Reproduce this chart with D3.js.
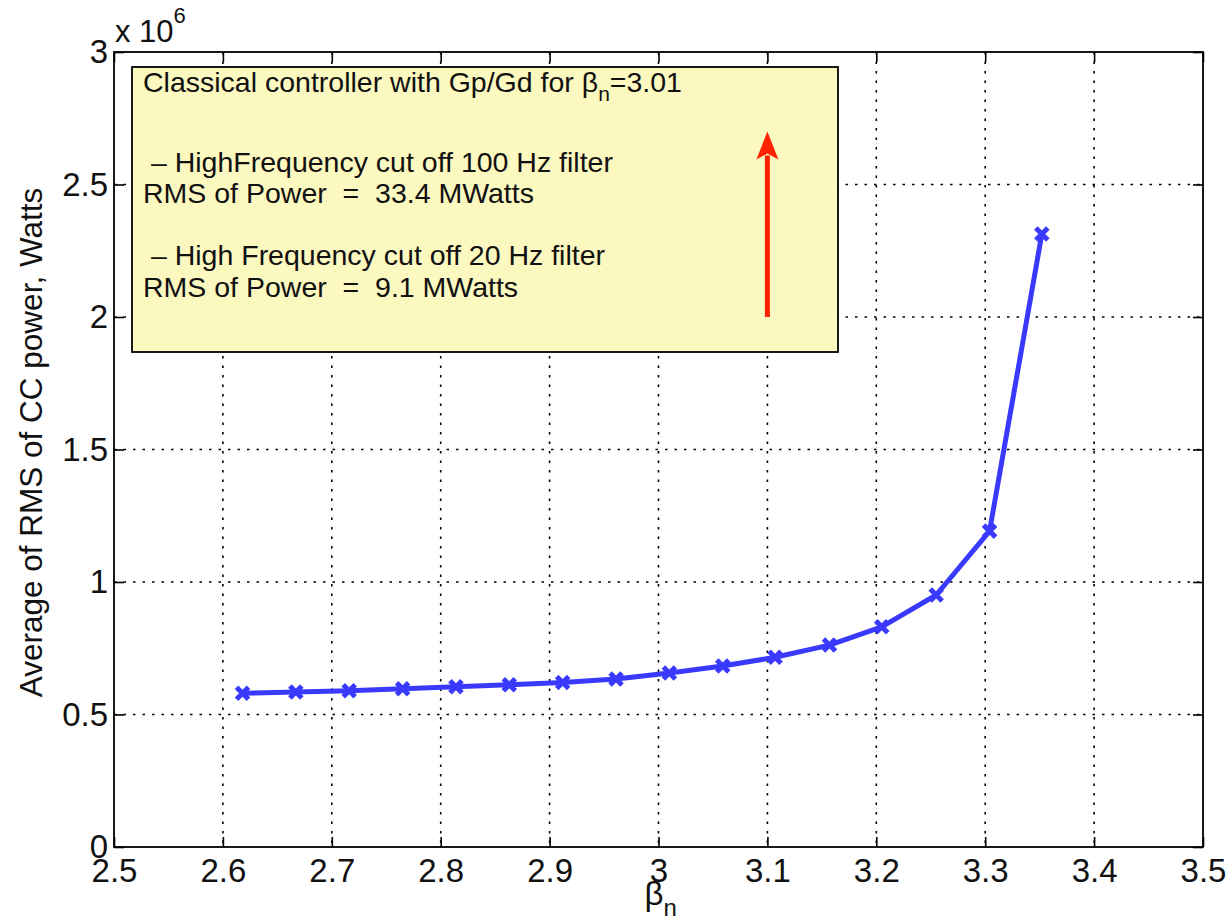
<!DOCTYPE html>
<html>
<head>
<meta charset="utf-8">
<script src="https://cdnjs.cloudflare.com/ajax/libs/d3/7.8.5/d3.min.js"></script>
<style>
	body { margin: 0; background: #fff; }
	svg { display: block; font-family: "Liberation Sans", Arial, Helvetica, sans-serif; }
	text { white-space: pre; }
</style>
</head>
<body>
<script>
// values (power in units of 1e6 W)
var betaN = [2.618, 2.667, 2.716, 2.765, 2.814, 2.863, 2.912, 2.961, 3.010, 3.059, 3.107, 3.157, 3.205, 3.255, 3.304, 3.352];
var rmsPower = [0.580, 0.585, 0.590, 0.597, 0.605, 0.612, 0.621, 0.634, 0.657, 0.683, 0.716, 0.762, 0.831, 0.951, 1.192, 2.313];
var xTicks = [2.5, 2.6, 2.7, 2.8, 2.9, 3.0, 3.1, 3.2, 3.3, 3.4, 3.5];
var yTicks = [0, 0.5, 1, 1.5, 2, 2.5, 3];
var boxLines = [
	{ text: "Classical controller with Gp/Gd for β", sub: "n", after: "=3.01" },
	{ text: " – HighFrequency cut off 100 Hz filter" },
	{ text: "RMS of Power  =  33.4 MWatts" },
	{ text: " – High Frequency cut off 20 Hz filter" },
	{ text: "RMS of Power  =  9.1 MWatts" }
];
var arrowFrom = 2.0, arrowTo = 2.7, arrowAt = 3.1; // annotation arrow in data units

var W = 1232, H = 923;
var mLeft = 114, mRight = 1203, mTop = 52, mBottom = 847;

var x = d3.scaleLinear().domain([2.5, 3.5]).range([mLeft, mRight]);
var y = d3.scaleLinear().domain([0, 3]).range([mBottom, mTop]);

var svg = d3.select("body").append("svg")
	.attr("width", W)
	.attr("height", H);

// grid
var grid = svg.append("g").attr("stroke", "#000").attr("stroke-width", 1.6).attr("stroke-dasharray", "2.5,7");
grid.selectAll(".gx").data(xTicks.slice(1, -1)).enter().append("line")
	.attr("x1", d => x(d)).attr("x2", d => x(d))
	.attr("y1", mTop).attr("y2", mBottom);
grid.selectAll(".gy").data(yTicks.slice(1, -1)).enter().append("line")
	.attr("x1", mLeft).attr("x2", mRight)
	.attr("y1", d => y(d)).attr("y2", d => y(d));

// axes (ticks pointing inward)
var fs = 33;
var gx = svg.append("g")
	.attr("transform", "translate(0," + mBottom + ")")
	.call(d3.axisBottom(x).tickValues(xTicks).tickSize(-10).tickPadding(12).tickFormat(d3.format("")));
var gxTop = svg.append("g")
	.attr("transform", "translate(0," + mTop + ")")
	.call(d3.axisTop(x).tickValues(xTicks).tickSize(-10).tickFormat(""));
var gy = svg.append("g")
	.attr("transform", "translate(" + mLeft + ",0)")
	.call(d3.axisLeft(y).tickValues(yTicks).tickSize(-10).tickPadding(6).tickFormat(d3.format("")));
var gyRight = svg.append("g")
	.attr("transform", "translate(" + mRight + ",0)")
	.call(d3.axisRight(y).tickValues(yTicks).tickSize(-10).tickFormat(""));

[gx, gxTop, gy, gyRight].forEach(function (g) {
	g.select(".domain").remove();
	g.selectAll(".tick line").attr("stroke", "#000").attr("stroke-width", 1.6);
	g.selectAll("text").attr("font-size", fs).attr("fill", "#111").attr("font-family", "Liberation Sans, Arial, sans-serif");
});

// box around the axes
svg.append("rect")
	.attr("x", mLeft).attr("y", mTop)
	.attr("width", mRight - mLeft).attr("height", mBottom - mTop)
	.attr("fill", "none").attr("stroke", "#000").attr("stroke-width", 1.8);

// exponent label
var expo = svg.append("text").attr("x", 115).attr("y", 42).attr("font-size", 31).attr("fill", "#111");
expo.append("tspan").text("x 10");
expo.append("tspan").attr("font-size", 22).attr("dy", -19).text("6");

// axis labels
var xl = svg.append("text").attr("x", x(3.0) - 14).attr("y", 905).attr("font-size", fs).attr("fill", "#111");
xl.append("tspan").text("β");
xl.append("tspan").attr("font-size", 24).attr("dy", 11).text("n");

svg.append("text")
	.attr("transform", "translate(42," + ((mTop + mBottom) / 2 - 7) + ") rotate(-90)")
	.attr("text-anchor", "middle")
	.attr("font-size", 31.5)
	.attr("fill", "#111")
	.text("Average of RMS of CC power, Watts");

// annotation box
svg.append("rect")
	.attr("x", 132).attr("y", 67)
	.attr("width", 706).attr("height", 285)
	.attr("fill", "#fbf8c0").attr("stroke", "#000").attr("stroke-width", 1.8);

var baselines = [92, 172, 203, 265, 297];
boxLines.forEach(function (l, i) {
	var t = svg.append("text").attr("x", 143).attr("y", baselines[i]).attr("font-size", 28.5).attr("fill", "#111");
	t.append("tspan").text(l.text);
	if (l.sub) {
		t.append("tspan").attr("font-size", 21).attr("dy", 9).text(l.sub);
		t.append("tspan").attr("dy", -9).text(l.after);
	}
});

// red arrow
var ax = x(arrowAt), ay0 = y(arrowFrom), ay1 = y(arrowTo);
svg.append("line")
	.attr("x1", ax).attr("x2", ax)
	.attr("y1", ay0).attr("y2", ay1 + 24)
	.attr("stroke", "#ff2200").attr("stroke-width", 5);
svg.append("path")
	.attr("d", "M" + ax + "," + ay1 + " L" + (ax + 11) + "," + (ay1 + 28) + " L" + ax + "," + (ay1 + 22) + " L" + (ax - 11) + "," + (ay1 + 28) + " Z")
	.attr("fill", "#ff2200");

// data line
var pts = betaN.map(function (b, i) { return [b, rmsPower[i]]; });
var line = d3.line().x(d => x(d[0])).y(d => y(d[1]));
svg.append("path")
	.datum(pts)
	.attr("d", line)
	.attr("fill", "none")
	.attr("stroke", "#3a3aff")
	.attr("stroke-width", 5)
	.attr("stroke-linejoin", "round");

svg.selectAll(".mk").data(pts).enter().append("path")
	.attr("class", "mk")
	.attr("d", function (d) {
		var cx = x(d[0]), cy = y(d[1]), s = 6;
		return "M" + (cx - s) + "," + (cy - s) + "L" + (cx + s) + "," + (cy + s) +
			"M" + (cx - s) + "," + (cy + s) + "L" + (cx + s) + "," + (cy - s);
	})
	.attr("stroke", "#3a3aff")
	.attr("stroke-width", 5);
</script>
</body>
</html>
